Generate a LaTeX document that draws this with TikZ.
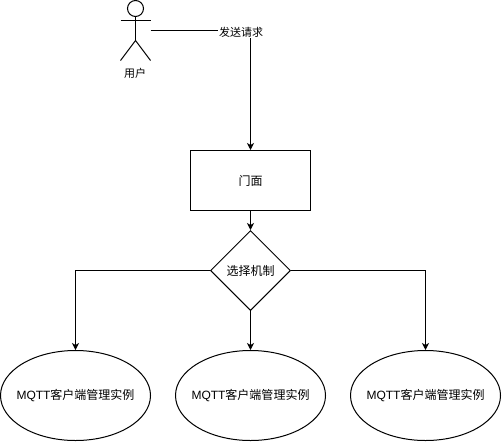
\documentclass[tikz,border=0pt]{standalone}
\usepackage{fontspec}
\setmainfont{Liberation Sans}
\newfontfamily\cjk{Noto Sans CJK SC}
\usetikzlibrary{shapes.geometric,arrows.meta}
\tikzset{
  line/.style={draw=black,line width=1pt},
  conn/.style={line,-{Stealth[length=7pt,width=7pt,inset=2pt]}},
  txt/.style={font=\fontsize{12}{14}\selectfont\cjk,text=black,inner sep=0pt},
  small/.style={font=\fontsize{11}{13}\selectfont\cjk,text=black,inner sep=0pt},
  box/.style={line,rectangle,minimum width=120pt,minimum height=60pt,inner sep=0pt},
  choice/.style={line,diamond,minimum width=80pt,minimum height=80pt,inner sep=0pt},
  inst/.style={line,ellipse,minimum width=150pt,minimum height=90pt,inner sep=0pt,
    label={[txt]center:\instlabel}},
}
\newcommand{\instlabel}{{\fontsize{12}{14}\selectfont\rmfamily MQTT}客户端管理实例}
\begin{document}
\begin{tikzpicture}[x=1pt,y=-1pt]
\useasboundingbox (0,0) rectangle (502,442);
\fill[white] (0,0) rectangle (502,442);
% actor
\node[line,circle,minimum size=16pt,inner sep=0pt] (head) at (135.5,8.5) {};
\coordinate (hip) at (135.5,40.5);
\coordinate (armL) at (120.5,20.5);
\coordinate (armR) at (150.5,20.5);
\coordinate (legL) at (120.5,60.5);
\coordinate (legR) at (150.5,60.5);
\coordinate (actorEdge) at (150.5,30.5);
\draw[line] (head.south) -- (hip);
\draw[line] (armL) -- (armR);
\draw[line] (legL) -- (hip) -- (legR);
\node[small] (user) at (135,73) {用户};
% shapes
\node[box,txt] (facade) at (250.5,180.5) {门面};
\node[choice,txt] (select) at (250.5,270.5) {选择机制};
\node[inst] (i1) at (75.5,395.5) {};
\node[inst] (i2) at (250.5,395.5) {};
\node[inst] (i3) at (425.5,395.5) {};
% connectors
\draw[conn] (actorEdge) -| (facade.north);
\node[small,fill=white,inner xsep=1pt,inner ysep=1pt] (send) at (241,32) {发送请求};
\draw[conn] (facade.south) -- (select.north);
\draw[conn] (select.west) -| (i1.north);
\draw[conn] (select.south) -- (i2.north);
\draw[conn] (select.east) -| (i3.north);
\end{tikzpicture}
\end{document}
